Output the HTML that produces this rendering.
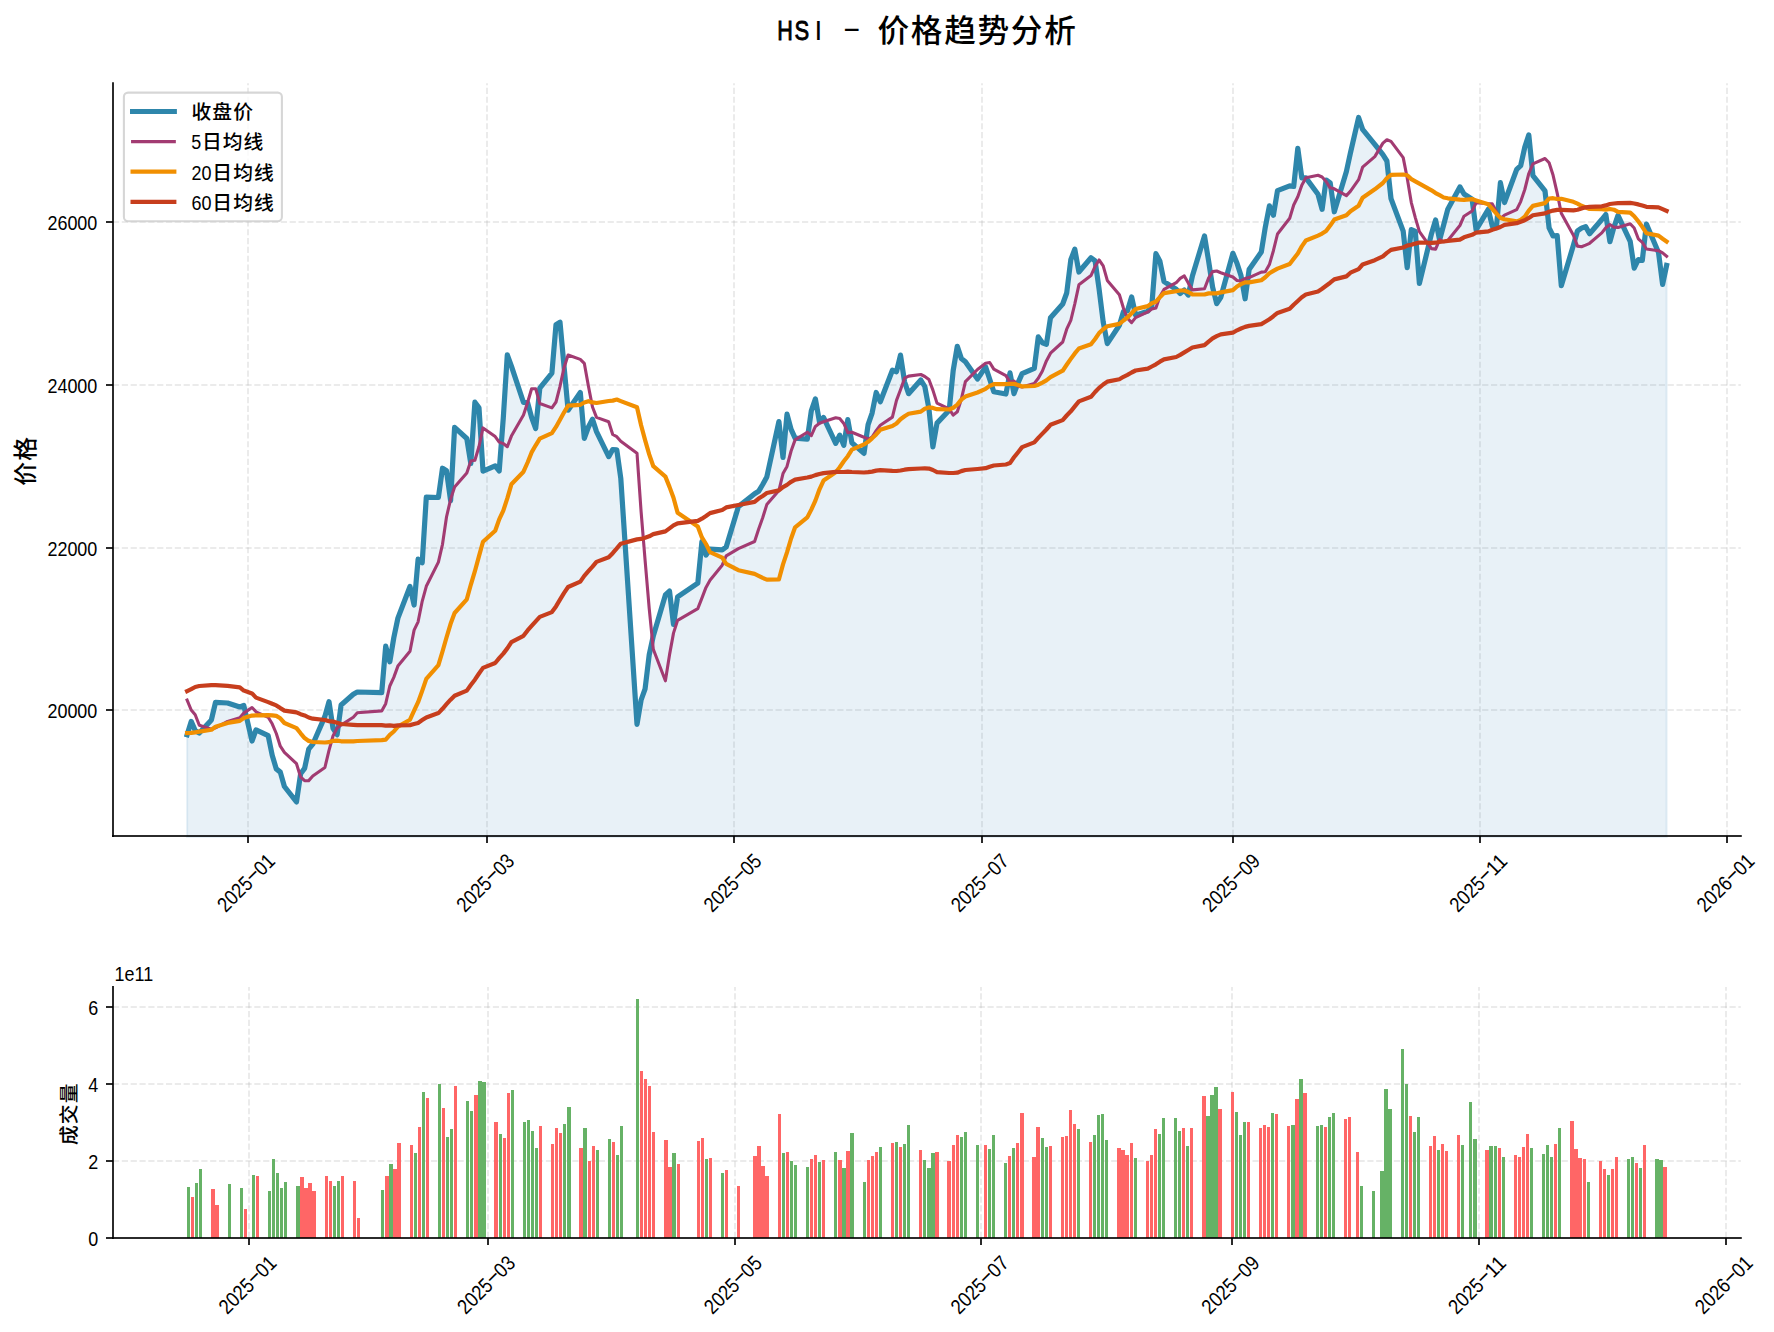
<!DOCTYPE html>
<html lang="zh"><head><meta charset="utf-8"><title>HSI - 价格趋势分析</title>
<style>html,body{margin:0;padding:0;background:#fff}svg{display:block}svg text{font-family:"Liberation Sans","Noto Sans CJK SC",sans-serif}</style></head>
<body>
<svg width="1774" height="1332" viewBox="0 0 1774 1332">
<rect width="1774" height="1332" fill="#fff"/>
<text transform="translate(926.70,41.50)" y="0" fill="#000"><tspan x="-149.44" dy="-1.05" stroke="#000" stroke-width="0.9" font-size="27.83" textLength="15.57" lengthAdjust="spacingAndGlyphs">H</tspan><tspan x="-132.32" stroke="#000" stroke-width="0.9" font-size="27.83" textLength="14.66" lengthAdjust="spacingAndGlyphs">S</tspan><tspan x="-112.19" font-size="27.83">I</tspan><tspan x="-99.99" font-size="27.83"> </tspan><tspan x="-84.26" dy="-3.48" font-size="27.83" textLength="18.54" lengthAdjust="spacingAndGlyphs">-</tspan><tspan x="-66.66" dy="3.48" font-size="27.83"> </tspan><tspan x="-49.16 -15.83 17.50 50.83 84.16 117.49" dy="1.05" font-size="31.66" font-weight="500">价格趋势分析</tspan></text>
<g id="main">
<line x1="248" y1="836.0" x2="248" y2="83.2" stroke="#b0b0b0" stroke-opacity="0.25" stroke-width="2" stroke-dasharray="6.1667,2.6667"/>
<line x1="487" y1="836.0" x2="487" y2="83.2" stroke="#b0b0b0" stroke-opacity="0.25" stroke-width="2" stroke-dasharray="6.1667,2.6667"/>
<line x1="734" y1="836.0" x2="734" y2="83.2" stroke="#b0b0b0" stroke-opacity="0.25" stroke-width="2" stroke-dasharray="6.1667,2.6667"/>
<line x1="982" y1="836.0" x2="982" y2="83.2" stroke="#b0b0b0" stroke-opacity="0.25" stroke-width="2" stroke-dasharray="6.1667,2.6667"/>
<line x1="1233" y1="836.0" x2="1233" y2="83.2" stroke="#b0b0b0" stroke-opacity="0.25" stroke-width="2" stroke-dasharray="6.1667,2.6667"/>
<line x1="1480" y1="836.0" x2="1480" y2="83.2" stroke="#b0b0b0" stroke-opacity="0.25" stroke-width="2" stroke-dasharray="6.1667,2.6667"/>
<line x1="1727" y1="836.0" x2="1727" y2="83.2" stroke="#b0b0b0" stroke-opacity="0.25" stroke-width="2" stroke-dasharray="6.1667,2.6667"/>
<line x1="113.0" y1="710" x2="1740.8" y2="710" stroke="#b0b0b0" stroke-opacity="0.25" stroke-width="2" stroke-dasharray="6.1667,2.6667"/>
<line x1="113.0" y1="548" x2="1740.8" y2="548" stroke="#b0b0b0" stroke-opacity="0.25" stroke-width="2" stroke-dasharray="6.1667,2.6667"/>
<line x1="113.0" y1="385" x2="1740.8" y2="385" stroke="#b0b0b0" stroke-opacity="0.25" stroke-width="2" stroke-dasharray="6.1667,2.6667"/>
<line x1="113.0" y1="222" x2="1740.8" y2="222" stroke="#b0b0b0" stroke-opacity="0.25" stroke-width="2" stroke-dasharray="6.1667,2.6667"/>
<polygon points="187.1,836.9 187.1,734.7 191.2,721.4 195.2,730.5 199.3,733.1 211.4,719.9 215.5,702.4 227.6,703.0 239.8,707.0 243.8,705.5 252.0,741.0 256.0,729.9 268.2,735.7 272.2,755.3 276.3,768.9 280.3,772.1 284.4,786.5 296.5,801.9 300.6,773.8 304.6,768.4 308.7,749.2 312.8,744.2 324.9,716.4 329.0,701.7 333.0,728.3 337.1,734.7 341.1,705.0 353.3,694.3 357.3,692.0 381.7,692.7 385.7,646.1 389.8,661.8 393.8,637.8 397.9,618.1 410.0,586.5 414.1,605.0 418.1,559.2 422.2,562.7 426.3,497.2 438.4,497.5 442.5,468.2 446.5,470.8 450.6,500.7 454.6,427.4 466.8,438.5 470.8,463.5 474.9,402.2 479.0,407.8 483.0,471.1 495.2,465.8 499.2,471.0 503.3,417.9 507.3,354.8 511.4,366.1 523.5,402.5 527.6,402.6 531.6,417.4 535.7,428.6 539.8,388.2 551.9,373.1 556.0,324.7 560.0,322.2 564.1,367.0 568.1,410.2 580.3,392.6 584.3,438.3 588.4,427.0 592.5,419.2 596.5,431.6 608.7,456.6 612.7,449.5 616.8,449.8 620.8,478.5 637.0,724.3 641.1,700.0 645.1,688.8 649.2,654.9 653.3,635.9 665.4,595.0 669.5,591.1 673.5,624.4 677.6,596.8 697.8,583.2 701.9,541.7 706.0,555.0 710.0,549.2 722.2,549.9 726.2,547.0 738.4,506.6 754.6,493.7 758.6,491.3 762.7,484.5 766.8,477.0 778.9,421.6 783.0,457.5 787.0,414.2 791.1,429.4 795.1,438.2 807.3,439.2 811.3,410.8 815.4,398.9 819.5,422.0 823.5,417.4 835.7,443.3 839.7,435.2 843.8,445.3 847.8,419.6 851.9,442.7 864.0,453.4 868.1,424.6 872.1,413.1 876.2,392.5 880.3,401.8 892.4,370.2 896.5,371.7 900.5,355.1 904.6,382.0 908.6,393.7 920.8,380.0 924.8,386.5 928.9,408.5 932.9,446.9 937.0,423.1 949.2,410.2 953.2,370.5 957.3,346.3 961.3,358.4 965.4,361.8 977.5,379.0 985.6,366.9 989.7,379.2 993.8,391.8 1005.9,394.0 1010.0,372.9 1014.0,393.7 1018.1,382.6 1022.1,373.6 1034.3,368.4 1038.3,336.9 1042.4,342.8 1046.4,344.3 1050.5,317.7 1062.7,304.0 1066.7,293.0 1070.8,259.8 1074.8,249.3 1078.9,272.0 1091.0,257.8 1095.1,260.9 1099.1,289.2 1103.2,322.0 1107.3,343.6 1119.4,325.3 1123.5,311.5 1127.5,310.8 1131.6,296.9 1135.6,315.1 1147.8,311.1 1151.8,306.0 1155.9,253.6 1159.9,261.3 1164.0,281.6 1176.2,289.2 1180.2,293.6 1184.3,290.1 1188.3,295.1 1192.4,276.0 1204.5,236.0 1208.6,260.9 1212.6,287.2 1216.7,303.7 1220.8,297.3 1232.9,253.3 1237.0,263.2 1241.0,275.6 1245.1,298.8 1249.1,269.6 1261.3,252.0 1265.3,227.2 1269.4,205.9 1273.4,215.2 1277.5,190.6 1289.7,185.9 1293.7,186.5 1297.8,148.3 1301.8,177.9 1305.9,177.9 1318.0,194.2 1322.1,209.3 1326.1,180.0 1330.2,182.8 1334.3,211.8 1346.4,171.5 1350.5,152.6 1358.6,117.5 1362.6,129.4 1374.8,144.3 1382.9,154.7 1386.9,161.0 1391.0,198.6 1403.2,231.2 1407.2,267.7 1411.3,229.5 1415.3,231.3 1419.4,283.5 1431.5,233.7 1435.6,220.0 1439.6,240.0 1443.7,224.8 1447.8,209.2 1459.9,186.9 1464.0,194.0 1472.1,199.2 1476.1,229.8 1488.3,209.3 1492.3,226.1 1496.4,227.5 1500.4,182.7 1504.5,202.5 1516.7,169.4 1520.7,165.6 1524.8,147.1 1528.8,134.9 1532.9,175.6 1545.0,190.9 1549.1,227.9 1553.1,236.0 1557.2,235.6 1561.3,285.7 1573.4,245.3 1577.5,230.8 1581.5,228.1 1585.6,226.6 1589.6,233.7 1601.8,219.5 1605.8,214.5 1609.9,241.7 1613.9,227.4 1618.0,215.3 1630.2,241.3 1634.2,268.2 1638.3,259.6 1642.3,260.4 1646.4,224.1 1658.5,252.4 1662.6,284.4 1666.6,265.4 1666.6,836.9" fill="#1f77b4" fill-opacity="0.1" stroke="#1f77b4" stroke-opacity="0.1" stroke-width="2.08" stroke-linejoin="miter"/>
<polyline points="187.1,734.7 191.2,721.4 195.2,730.5 199.3,733.1 211.4,719.9 215.5,702.4 227.6,703.0 239.8,707.0 243.8,705.5 252.0,741.0 256.0,729.9 268.2,735.7 272.2,755.3 276.3,768.9 280.3,772.1 284.4,786.5 296.5,801.9 300.6,773.8 304.6,768.4 308.7,749.2 312.8,744.2 324.9,716.4 329.0,701.7 333.0,728.3 337.1,734.7 341.1,705.0 353.3,694.3 357.3,692.0 381.7,692.7 385.7,646.1 389.8,661.8 393.8,637.8 397.9,618.1 410.0,586.5 414.1,605.0 418.1,559.2 422.2,562.7 426.3,497.2 438.4,497.5 442.5,468.2 446.5,470.8 450.6,500.7 454.6,427.4 466.8,438.5 470.8,463.5 474.9,402.2 479.0,407.8 483.0,471.1 495.2,465.8 499.2,471.0 503.3,417.9 507.3,354.8 511.4,366.1 523.5,402.5 527.6,402.6 531.6,417.4 535.7,428.6 539.8,388.2 551.9,373.1 556.0,324.7 560.0,322.2 564.1,367.0 568.1,410.2 580.3,392.6 584.3,438.3 588.4,427.0 592.5,419.2 596.5,431.6 608.7,456.6 612.7,449.5 616.8,449.8 620.8,478.5 637.0,724.3 641.1,700.0 645.1,688.8 649.2,654.9 653.3,635.9 665.4,595.0 669.5,591.1 673.5,624.4 677.6,596.8 697.8,583.2 701.9,541.7 706.0,555.0 710.0,549.2 722.2,549.9 726.2,547.0 738.4,506.6 754.6,493.7 758.6,491.3 762.7,484.5 766.8,477.0 778.9,421.6 783.0,457.5 787.0,414.2 791.1,429.4 795.1,438.2 807.3,439.2 811.3,410.8 815.4,398.9 819.5,422.0 823.5,417.4 835.7,443.3 839.7,435.2 843.8,445.3 847.8,419.6 851.9,442.7 864.0,453.4 868.1,424.6 872.1,413.1 876.2,392.5 880.3,401.8 892.4,370.2 896.5,371.7 900.5,355.1 904.6,382.0 908.6,393.7 920.8,380.0 924.8,386.5 928.9,408.5 932.9,446.9 937.0,423.1 949.2,410.2 953.2,370.5 957.3,346.3 961.3,358.4 965.4,361.8 977.5,379.0 985.6,366.9 989.7,379.2 993.8,391.8 1005.9,394.0 1010.0,372.9 1014.0,393.7 1018.1,382.6 1022.1,373.6 1034.3,368.4 1038.3,336.9 1042.4,342.8 1046.4,344.3 1050.5,317.7 1062.7,304.0 1066.7,293.0 1070.8,259.8 1074.8,249.3 1078.9,272.0 1091.0,257.8 1095.1,260.9 1099.1,289.2 1103.2,322.0 1107.3,343.6 1119.4,325.3 1123.5,311.5 1127.5,310.8 1131.6,296.9 1135.6,315.1 1147.8,311.1 1151.8,306.0 1155.9,253.6 1159.9,261.3 1164.0,281.6 1176.2,289.2 1180.2,293.6 1184.3,290.1 1188.3,295.1 1192.4,276.0 1204.5,236.0 1208.6,260.9 1212.6,287.2 1216.7,303.7 1220.8,297.3 1232.9,253.3 1237.0,263.2 1241.0,275.6 1245.1,298.8 1249.1,269.6 1261.3,252.0 1265.3,227.2 1269.4,205.9 1273.4,215.2 1277.5,190.6 1289.7,185.9 1293.7,186.5 1297.8,148.3 1301.8,177.9 1305.9,177.9 1318.0,194.2 1322.1,209.3 1326.1,180.0 1330.2,182.8 1334.3,211.8 1346.4,171.5 1350.5,152.6 1358.6,117.5 1362.6,129.4 1374.8,144.3 1382.9,154.7 1386.9,161.0 1391.0,198.6 1403.2,231.2 1407.2,267.7 1411.3,229.5 1415.3,231.3 1419.4,283.5 1431.5,233.7 1435.6,220.0 1439.6,240.0 1443.7,224.8 1447.8,209.2 1459.9,186.9 1464.0,194.0 1472.1,199.2 1476.1,229.8 1488.3,209.3 1492.3,226.1 1496.4,227.5 1500.4,182.7 1504.5,202.5 1516.7,169.4 1520.7,165.6 1524.8,147.1 1528.8,134.9 1532.9,175.6 1545.0,190.9 1549.1,227.9 1553.1,236.0 1557.2,235.6 1561.3,285.7 1573.4,245.3 1577.5,230.8 1581.5,228.1 1585.6,226.6 1589.6,233.7 1601.8,219.5 1605.8,214.5 1609.9,241.7 1613.9,227.4 1618.0,215.3 1630.2,241.3 1634.2,268.2 1638.3,259.6 1642.3,260.4 1646.4,224.1 1658.5,252.4 1662.6,284.4 1666.6,265.4" stroke="#2E86AB" stroke-width="5.2" fill="none" stroke-linejoin="round" stroke-linecap="square"/>
<polyline points="187.1,700.1 191.2,710.0 195.2,714.8 199.3,725.3 211.4,729.3 215.5,727.9 227.6,721.4 239.8,717.8 243.8,713.1 252.0,707.5 256.0,711.8 268.2,717.3 272.2,723.8 276.3,733.5 280.3,746.2 284.4,752.4 296.5,763.7 300.6,777.0 304.6,780.7 308.7,780.6 312.8,776.0 324.9,767.5 329.0,750.4 333.0,736.0 337.1,728.0 341.1,725.1 353.3,717.2 357.3,712.8 381.7,710.9 385.7,703.7 389.8,686.0 393.8,677.4 397.9,666.1 410.0,651.3 414.1,630.1 418.1,621.8 422.2,601.3 426.3,586.3 438.4,562.1 442.5,544.3 446.5,517.0 450.6,499.3 454.6,486.9 466.8,472.9 470.8,461.1 474.9,460.2 479.0,446.5 483.0,427.9 495.2,436.6 499.2,442.1 503.3,443.6 507.3,446.7 511.4,436.1 523.5,415.1 527.6,402.5 531.6,388.8 535.7,388.7 539.8,403.5 551.9,407.9 556.0,402.0 560.0,386.4 564.1,367.4 568.1,355.0 580.3,359.4 584.3,363.3 588.4,386.1 592.5,407.0 596.5,417.4 608.7,421.7 612.7,434.5 616.8,436.7 620.8,441.3 637.0,453.2 641.1,511.7 645.1,560.4 649.2,608.3 653.3,649.3 665.4,680.8 669.5,654.9 673.5,633.1 677.6,620.3 697.8,608.6 701.9,598.1 706.0,587.4 710.0,580.2 722.2,565.2 726.2,555.8 738.4,548.6 754.6,541.5 758.6,529.3 762.7,517.7 766.8,504.6 778.9,490.6 783.0,473.6 787.0,466.4 791.1,451.0 795.1,439.9 807.3,432.2 811.3,435.7 815.4,426.4 819.5,423.3 823.5,421.8 835.7,417.7 839.7,418.5 843.8,423.4 847.8,432.6 851.9,432.2 864.0,437.2 868.1,439.2 872.1,437.1 876.2,430.7 880.3,425.3 892.4,417.1 896.5,400.4 900.5,389.8 904.6,378.2 908.6,376.1 920.8,374.5 924.8,376.5 928.9,379.5 932.9,390.1 937.0,403.1 949.2,409.0 953.2,415.1 957.3,411.8 961.3,399.4 965.4,381.7 977.5,369.5 985.6,363.2 989.7,362.5 993.8,369.1 1005.9,375.7 1010.0,382.2 1014.0,381.0 1018.1,386.3 1022.1,387.0 1034.3,383.4 1038.3,378.2 1042.4,371.0 1046.4,360.9 1050.5,353.2 1062.7,342.0 1066.7,329.2 1070.8,320.4 1074.8,303.8 1078.9,284.8 1091.0,275.6 1095.1,266.4 1099.1,260.0 1103.2,265.8 1107.3,280.4 1119.4,294.7 1123.5,308.2 1127.5,318.3 1131.6,322.6 1135.6,317.6 1147.8,311.9 1151.8,309.1 1155.9,308.0 1159.9,296.6 1164.0,289.4 1176.2,282.7 1180.2,278.4 1184.3,275.9 1188.3,283.1 1192.4,289.9 1204.5,288.8 1208.6,278.1 1212.6,271.6 1216.7,271.0 1220.8,272.7 1232.9,277.0 1237.0,280.5 1241.0,280.9 1245.1,278.6 1249.1,277.6 1261.3,272.1 1265.3,271.8 1269.4,264.6 1273.4,250.7 1277.5,234.0 1289.7,218.2 1293.7,205.0 1297.8,196.8 1301.8,185.3 1305.9,177.8 1318.0,175.3 1322.1,177.0 1326.1,181.5 1330.2,187.8 1334.3,188.8 1346.4,195.6 1350.5,191.1 1358.6,179.7 1362.6,167.2 1374.8,156.6 1382.9,143.1 1386.9,139.7 1391.0,141.4 1403.2,157.6 1407.2,178.0 1411.3,202.6 1415.3,217.6 1419.4,231.6 1431.5,248.6 1435.6,249.1 1439.6,239.6 1443.7,241.7 1447.8,240.4 1459.9,225.5 1464.0,216.2 1472.1,211.0 1476.1,202.8 1488.3,203.8 1492.3,203.9 1496.4,211.7 1500.4,218.4 1504.5,215.1 1516.7,209.6 1520.7,201.6 1524.8,189.5 1528.8,173.5 1532.9,163.9 1545.0,158.5 1549.1,162.8 1553.1,175.3 1557.2,193.1 1561.3,213.2 1573.4,235.2 1577.5,246.1 1581.5,246.7 1585.6,245.1 1589.6,243.3 1601.8,232.9 1605.8,227.7 1609.9,224.5 1613.9,227.2 1618.0,227.4 1630.2,223.7 1634.2,228.0 1638.3,238.8 1642.3,242.4 1646.4,249.0 1658.5,250.7 1662.6,252.9 1666.6,256.2" stroke="#A23B72" stroke-width="3.1" fill="none" stroke-linejoin="round" stroke-linecap="square"/>
<polyline points="187.1,733.1 191.2,732.9 195.2,732.3 199.3,731.7 211.4,729.7 215.5,726.7 227.6,722.9 239.8,720.9 243.8,718.1 252.0,715.6 256.0,715.3 268.2,715.2 272.2,715.4 276.3,715.9 280.3,718.3 284.4,723.0 296.5,728.1 300.6,733.3 304.6,738.1 308.7,740.9 312.8,742.0 324.9,742.5 329.0,742.2 333.0,740.8 337.1,740.6 341.1,741.3 353.3,741.4 357.3,741.0 381.7,740.2 385.7,739.6 389.8,734.9 393.8,731.5 397.9,726.6 410.0,719.7 414.1,710.6 418.1,702.2 422.2,690.9 426.3,678.9 438.4,665.1 442.5,651.5 446.5,637.5 450.6,623.8 454.6,613.0 466.8,599.3 470.8,584.8 474.9,571.2 479.0,556.1 483.0,541.8 495.2,530.7 499.2,519.4 503.3,510.6 507.3,498.4 511.4,484.3 523.5,471.7 527.6,462.5 531.6,452.4 535.7,445.3 539.8,438.6 551.9,433.1 556.0,426.9 560.0,419.7 564.1,412.3 568.1,405.6 580.3,404.8 584.3,402.5 588.4,401.2 592.5,402.4 596.5,403.0 608.7,401.0 612.7,400.6 616.8,399.5 620.8,401.1 637.0,407.3 641.1,425.2 645.1,440.1 649.2,454.4 653.3,466.2 665.4,476.6 669.5,486.9 673.5,497.8 677.6,512.8 697.8,526.6 701.9,537.4 706.0,544.0 710.0,552.1 722.2,557.6 726.2,563.8 738.4,570.2 754.6,573.9 758.6,575.8 762.7,577.9 766.8,579.6 778.9,579.5 783.0,564.4 787.0,552.3 791.1,538.5 795.1,527.3 807.3,517.4 811.3,509.6 815.4,500.6 819.5,489.3 823.5,480.6 835.7,472.3 839.7,467.3 843.8,461.3 847.8,456.2 851.9,449.6 864.0,444.4 868.1,441.8 872.1,438.3 876.2,434.4 880.3,429.8 892.4,426.0 896.5,423.5 900.5,419.2 904.6,416.2 908.6,413.8 920.8,411.6 924.8,408.7 928.9,407.4 932.9,407.9 937.0,409.2 949.2,409.5 953.2,407.8 957.3,404.6 961.3,399.6 965.4,396.6 977.5,392.5 985.6,388.8 989.7,385.9 993.8,384.2 1005.9,384.2 1010.0,383.8 1014.0,383.9 1018.1,385.0 1022.1,386.4 1034.3,386.0 1038.3,384.7 1042.4,382.6 1046.4,380.4 1050.5,377.2 1062.7,370.7 1066.7,364.8 1070.8,358.9 1074.8,353.4 1078.9,348.5 1091.0,344.2 1095.1,339.0 1099.1,333.1 1103.2,329.2 1107.3,326.3 1119.4,323.9 1123.5,320.5 1127.5,317.4 1131.6,313.3 1135.6,309.0 1147.8,306.1 1151.8,303.2 1155.9,301.7 1159.9,297.2 1164.0,293.1 1176.2,291.2 1180.2,290.5 1184.3,290.5 1188.3,292.0 1192.4,294.3 1204.5,294.5 1208.6,293.4 1212.6,293.4 1216.7,293.3 1220.8,292.4 1232.9,290.1 1237.0,286.5 1241.0,284.1 1245.1,282.3 1249.1,282.4 1261.3,280.2 1265.3,277.2 1269.4,273.3 1273.4,270.9 1277.5,268.6 1289.7,264.0 1293.7,258.8 1297.8,253.5 1301.8,246.4 1305.9,240.5 1318.0,235.6 1322.1,233.6 1326.1,231.0 1330.2,225.6 1334.3,219.6 1346.4,215.3 1350.5,211.2 1358.6,205.7 1362.6,197.8 1374.8,189.3 1382.9,183.0 1386.9,178.2 1391.0,174.9 1403.2,174.5 1407.2,175.3 1411.3,179.1 1415.3,181.3 1419.4,183.6 1431.5,190.3 1435.6,193.1 1439.6,195.2 1443.7,197.5 1447.8,198.3 1459.9,199.7 1464.0,199.9 1472.1,199.1 1476.1,200.4 1488.3,204.3 1492.3,208.9 1496.4,213.7 1500.4,217.9 1504.5,219.3 1516.7,221.4 1520.7,219.9 1524.8,216.6 1528.8,210.6 1532.9,205.9 1545.0,203.1 1549.1,198.5 1553.1,198.2 1557.2,199.0 1561.3,198.8 1573.4,201.8 1577.5,203.6 1581.5,205.8 1585.6,207.5 1589.6,208.9 1601.8,209.1 1605.8,209.6 1609.9,209.0 1613.9,209.7 1618.0,211.9 1630.2,212.6 1634.2,216.2 1638.3,221.3 1642.3,226.9 1646.4,233.2 1658.5,235.6 1662.6,238.7 1666.6,241.5" stroke="#F18F01" stroke-width="4.2" fill="none" stroke-linejoin="round" stroke-linecap="square"/>
<polyline points="187.1,691.1 191.2,689.2 195.2,687.0 199.3,686.0 211.4,685.1 215.5,685.2 227.6,685.9 239.8,687.3 243.8,690.6 252.0,693.4 256.0,697.6 268.2,702.1 272.2,703.8 276.3,705.4 280.3,708.1 284.4,710.6 296.5,712.3 300.6,714.2 304.6,715.4 308.7,717.5 312.8,718.7 324.9,720.0 329.0,721.1 333.0,721.6 337.1,722.7 341.1,724.0 353.3,724.8 357.3,725.1 381.7,725.2 385.7,725.6 389.8,725.3 393.8,725.8 397.9,725.4 410.0,725.1 414.1,724.0 418.1,722.9 422.2,720.1 426.3,717.4 438.4,713.1 442.5,708.8 446.5,704.2 450.6,699.7 454.6,695.8 466.8,690.6 470.8,685.0 474.9,679.7 479.0,673.5 483.0,667.9 495.2,663.0 499.2,658.2 503.3,653.6 507.3,648.4 511.4,642.1 523.5,635.8 527.6,630.4 531.6,625.9 535.7,621.4 539.8,616.9 551.9,612.1 556.0,606.4 560.0,599.7 564.1,592.9 568.1,587.0 580.3,581.6 584.3,575.9 588.4,571.2 592.5,566.7 596.5,561.9 608.7,557.3 612.7,553.2 616.8,548.3 620.8,543.7 637.0,539.4 641.1,538.9 645.1,537.7 649.2,536.3 653.3,534.1 665.4,531.4 669.5,528.4 673.5,525.4 677.6,523.3 697.8,520.9 701.9,518.7 706.0,516.0 710.0,513.1 722.2,510.0 726.2,507.4 738.4,505.0 754.6,501.9 758.6,498.6 762.7,496.0 766.8,493.0 778.9,490.4 783.0,487.1 787.0,484.9 791.1,481.8 795.1,479.6 807.3,477.5 811.3,476.6 815.4,475.1 819.5,474.0 823.5,473.1 835.7,471.8 839.7,472.0 843.8,472.0 847.8,471.7 851.9,472.0 864.0,472.5 868.1,472.2 872.1,471.6 876.2,470.6 880.3,470.2 892.4,470.9 896.5,471.0 900.5,470.5 904.6,469.7 908.6,469.1 920.8,468.5 924.8,468.4 928.9,468.6 932.9,470.0 937.0,472.1 949.2,473.0 953.2,473.0 957.3,472.7 961.3,471.1 965.4,470.0 977.5,469.0 985.6,468.2 989.7,466.7 993.8,465.5 1005.9,464.5 1010.0,463.1 1014.0,457.3 1018.1,452.2 1022.1,447.1 1034.3,442.4 1038.3,437.9 1042.4,433.6 1046.4,429.5 1050.5,424.8 1062.7,420.1 1066.7,415.5 1070.8,411.3 1074.8,406.4 1078.9,401.4 1091.0,396.8 1095.1,392.0 1099.1,387.9 1103.2,384.5 1107.3,381.6 1119.4,379.3 1123.5,376.8 1127.5,374.9 1131.6,372.5 1135.6,370.5 1147.8,368.6 1151.8,366.5 1155.9,364.3 1159.9,361.7 1164.0,359.4 1176.2,357.0 1180.2,354.9 1184.3,352.4 1188.3,350.0 1192.4,347.5 1204.5,345.1 1208.6,341.6 1212.6,338.4 1216.7,336.1 1220.8,334.3 1232.9,332.7 1237.0,330.3 1241.0,328.5 1245.1,326.9 1249.1,325.9 1261.3,324.1 1265.3,321.7 1269.4,319.2 1273.4,316.2 1277.5,312.9 1289.7,308.7 1293.7,304.7 1297.8,301.0 1301.8,297.3 1305.9,294.5 1318.0,291.5 1322.1,288.7 1326.1,285.8 1330.2,282.7 1334.3,279.4 1346.4,276.4 1350.5,272.7 1358.6,269.1 1362.6,264.5 1374.8,260.2 1382.9,256.4 1386.9,252.9 1391.0,249.9 1403.2,247.5 1407.2,245.6 1411.3,244.8 1415.3,243.6 1419.4,242.5 1431.5,242.9 1435.6,242.7 1439.6,241.8 1443.7,241.5 1447.8,240.9 1459.9,239.6 1464.0,237.3 1472.1,234.8 1476.1,232.7 1488.3,231.4 1492.3,229.7 1496.4,228.5 1500.4,227.0 1504.5,224.9 1516.7,223.2 1520.7,221.8 1524.8,220.2 1528.8,217.9 1532.9,215.3 1545.0,213.4 1549.1,211.7 1553.1,210.6 1557.2,209.9 1561.3,209.9 1573.4,210.4 1577.5,209.7 1581.5,208.4 1585.6,207.3 1589.6,206.8 1601.8,206.3 1605.8,205.4 1609.9,204.0 1613.9,203.5 1618.0,203.1 1630.2,202.9 1634.2,203.5 1638.3,204.4 1642.3,205.6 1646.4,206.8 1658.5,207.4 1662.6,209.2 1666.6,210.9" stroke="#C73E1D" stroke-width="4.2" fill="none" stroke-linejoin="round" stroke-linecap="square"/>
<line x1="113.0" y1="82.2" x2="113.0" y2="837.0" stroke="#000" stroke-opacity="0.8333" stroke-width="2"/>
<line x1="112.0" y1="836.0" x2="1741.8" y2="836.0" stroke="#000" stroke-opacity="0.8333" stroke-width="2"/>
<line x1="248" y1="836.0" x2="248" y2="843.0" stroke="#000" stroke-opacity="0.8333" stroke-width="2"/>
<text transform="translate(250.90,888.00) rotate(-45)" y="0" fill="#000"><tspan x="-35.62" font-size="20.83" textLength="39.99" lengthAdjust="spacingAndGlyphs">2025</tspan><tspan x="3.48" dy="-2.60" font-size="20.83" textLength="13.87" lengthAdjust="spacingAndGlyphs">-</tspan><tspan x="16.04" dy="2.60" font-size="20.83" textLength="20.00" lengthAdjust="spacingAndGlyphs">01</tspan></text>
<line x1="487" y1="836.0" x2="487" y2="843.0" stroke="#000" stroke-opacity="0.8333" stroke-width="2"/>
<text transform="translate(490.06,888.00) rotate(-45)" y="0" fill="#000"><tspan x="-35.62" font-size="20.83" textLength="39.99" lengthAdjust="spacingAndGlyphs">2025</tspan><tspan x="3.48" dy="-2.60" font-size="20.83" textLength="13.87" lengthAdjust="spacingAndGlyphs">-</tspan><tspan x="16.04" dy="2.60" font-size="20.83" textLength="20.00" lengthAdjust="spacingAndGlyphs">03</tspan></text>
<line x1="734" y1="836.0" x2="734" y2="843.0" stroke="#000" stroke-opacity="0.8333" stroke-width="2"/>
<text transform="translate(737.33,888.00) rotate(-45)" y="0" fill="#000"><tspan x="-35.62" font-size="20.83" textLength="39.99" lengthAdjust="spacingAndGlyphs">2025</tspan><tspan x="3.48" dy="-2.60" font-size="20.83" textLength="13.87" lengthAdjust="spacingAndGlyphs">-</tspan><tspan x="16.04" dy="2.60" font-size="20.83" textLength="20.00" lengthAdjust="spacingAndGlyphs">05</tspan></text>
<line x1="982" y1="836.0" x2="982" y2="843.0" stroke="#000" stroke-opacity="0.8333" stroke-width="2"/>
<text transform="translate(984.59,888.00) rotate(-45)" y="0" fill="#000"><tspan x="-35.62" font-size="20.83" textLength="39.99" lengthAdjust="spacingAndGlyphs">2025</tspan><tspan x="3.48" dy="-2.60" font-size="20.83" textLength="13.87" lengthAdjust="spacingAndGlyphs">-</tspan><tspan x="16.04" dy="2.60" font-size="20.83" textLength="20.00" lengthAdjust="spacingAndGlyphs">07</tspan></text>
<line x1="1233" y1="836.0" x2="1233" y2="843.0" stroke="#000" stroke-opacity="0.8333" stroke-width="2"/>
<text transform="translate(1235.91,888.00) rotate(-45)" y="0" fill="#000"><tspan x="-35.62" font-size="20.83" textLength="39.99" lengthAdjust="spacingAndGlyphs">2025</tspan><tspan x="3.48" dy="-2.60" font-size="20.83" textLength="13.87" lengthAdjust="spacingAndGlyphs">-</tspan><tspan x="16.04" dy="2.60" font-size="20.83" textLength="20.00" lengthAdjust="spacingAndGlyphs">09</tspan></text>
<line x1="1480" y1="836.0" x2="1480" y2="843.0" stroke="#000" stroke-opacity="0.8333" stroke-width="2"/>
<text transform="translate(1483.18,888.00) rotate(-45)" y="0" fill="#000"><tspan x="-35.62" font-size="20.83" textLength="39.99" lengthAdjust="spacingAndGlyphs">2025</tspan><tspan x="3.48" dy="-2.60" font-size="20.83" textLength="13.87" lengthAdjust="spacingAndGlyphs">-</tspan><tspan x="16.04" dy="2.60" font-size="20.83" textLength="20.00" lengthAdjust="spacingAndGlyphs">11</tspan></text>
<line x1="1727" y1="836.0" x2="1727" y2="843.0" stroke="#000" stroke-opacity="0.8333" stroke-width="2"/>
<text transform="translate(1730.45,888.00) rotate(-45)" y="0" fill="#000"><tspan x="-35.62" font-size="20.83" textLength="39.99" lengthAdjust="spacingAndGlyphs">2026</tspan><tspan x="3.48" dy="-2.60" font-size="20.83" textLength="13.87" lengthAdjust="spacingAndGlyphs">-</tspan><tspan x="16.04" dy="2.60" font-size="20.83" textLength="20.00" lengthAdjust="spacingAndGlyphs">01</tspan></text>
<line x1="106.0" y1="710" x2="113.0" y2="710" stroke="#000" stroke-opacity="0.8333" stroke-width="2"/>
<text transform="translate(98.40,718.35)" y="0" fill="#000"><tspan x="-51.03" font-size="20.83" textLength="49.99" lengthAdjust="spacingAndGlyphs">20000</tspan></text>
<line x1="106.0" y1="548" x2="113.0" y2="548" stroke="#000" stroke-opacity="0.8333" stroke-width="2"/>
<text transform="translate(98.40,555.64)" y="0" fill="#000"><tspan x="-51.03" font-size="20.83" textLength="49.99" lengthAdjust="spacingAndGlyphs">22000</tspan></text>
<line x1="106.0" y1="385" x2="113.0" y2="385" stroke="#000" stroke-opacity="0.8333" stroke-width="2"/>
<text transform="translate(98.40,392.92)" y="0" fill="#000"><tspan x="-51.03" font-size="20.83" textLength="49.99" lengthAdjust="spacingAndGlyphs">24000</tspan></text>
<line x1="106.0" y1="222" x2="113.0" y2="222" stroke="#000" stroke-opacity="0.8333" stroke-width="2"/>
<text transform="translate(98.40,230.21)" y="0" fill="#000"><tspan x="-51.03" font-size="20.83" textLength="49.99" lengthAdjust="spacingAndGlyphs">26000</tspan></text>
<text transform="translate(34.00,461.40) rotate(-90)" y="0" fill="#000"><tspan x="-24.38 0.63" font-size="23.75" font-weight="500">价格</tspan></text>
<rect x="123.9" y="92.6" width="158" height="128.6" rx="4.2" fill="#fff" fill-opacity="0.8" stroke="#ccc" stroke-opacity="0.8" stroke-width="2.08"/>
<line x1="132.6" y1="111.5" x2="174.3" y2="111.5" stroke="#2E86AB" stroke-width="5.2" stroke-linecap="square"/>
<text transform="translate(191.00,119.35)" y="0" fill="#000"><tspan x="0.52 21.35 42.18" font-size="19.79" font-weight="500">收盘价</tspan></text>
<line x1="132.6" y1="141.6" x2="174.3" y2="141.6" stroke="#A23B72" stroke-width="3.1" stroke-linecap="square"/>
<text transform="translate(191.00,149.45)" y="0" fill="#000"><tspan x="0.21" font-size="20.83" textLength="10.00" lengthAdjust="spacingAndGlyphs">5</tspan><tspan x="10.94 31.77 52.60" font-size="19.79" font-weight="500">日均线</tspan></text>
<line x1="132.6" y1="171.7" x2="174.3" y2="171.7" stroke="#F18F01" stroke-width="4.2" stroke-linecap="square"/>
<text transform="translate(191.00,179.55)" y="0" fill="#000"><tspan x="0.42" font-size="20.83" textLength="20.00" lengthAdjust="spacingAndGlyphs">20</tspan><tspan x="21.35 42.18 63.01" font-size="19.79" font-weight="500">日均线</tspan></text>
<line x1="132.6" y1="201.8" x2="174.3" y2="201.8" stroke="#C73E1D" stroke-width="4.2" stroke-linecap="square"/>
<text transform="translate(191.00,209.65)" y="0" fill="#000"><tspan x="0.42" font-size="20.83" textLength="20.00" lengthAdjust="spacingAndGlyphs">60</tspan><tspan x="21.35 42.18 63.01" font-size="19.79" font-weight="500">日均线</tspan></text>
</g>
<g id="vol">
<line x1="249" y1="1238.0" x2="249" y2="986.9" stroke="#b0b0b0" stroke-opacity="0.25" stroke-width="2" stroke-dasharray="6.1667,2.6667"/>
<line x1="488" y1="1238.0" x2="488" y2="986.9" stroke="#b0b0b0" stroke-opacity="0.25" stroke-width="2" stroke-dasharray="6.1667,2.6667"/>
<line x1="735" y1="1238.0" x2="735" y2="986.9" stroke="#b0b0b0" stroke-opacity="0.25" stroke-width="2" stroke-dasharray="6.1667,2.6667"/>
<line x1="981" y1="1238.0" x2="981" y2="986.9" stroke="#b0b0b0" stroke-opacity="0.25" stroke-width="2" stroke-dasharray="6.1667,2.6667"/>
<line x1="1232" y1="1238.0" x2="1232" y2="986.9" stroke="#b0b0b0" stroke-opacity="0.25" stroke-width="2" stroke-dasharray="6.1667,2.6667"/>
<line x1="1479" y1="1238.0" x2="1479" y2="986.9" stroke="#b0b0b0" stroke-opacity="0.25" stroke-width="2" stroke-dasharray="6.1667,2.6667"/>
<line x1="1726" y1="1238.0" x2="1726" y2="986.9" stroke="#b0b0b0" stroke-opacity="0.25" stroke-width="2" stroke-dasharray="6.1667,2.6667"/>
<line x1="113.0" y1="1161" x2="1740.8" y2="1161" stroke="#b0b0b0" stroke-opacity="0.25" stroke-width="2" stroke-dasharray="6.1667,2.6667"/>
<line x1="113.0" y1="1084" x2="1740.8" y2="1084" stroke="#b0b0b0" stroke-opacity="0.25" stroke-width="2" stroke-dasharray="6.1667,2.6667"/>
<line x1="113.0" y1="1007" x2="1740.8" y2="1007" stroke="#b0b0b0" stroke-opacity="0.25" stroke-width="2" stroke-dasharray="6.1667,2.6667"/>
<rect x="187" y="1187" width="3" height="51.0" fill="#66b266"/>
<rect x="191" y="1197" width="3" height="41.0" fill="#ff6666"/>
<rect x="195" y="1183" width="3" height="55.0" fill="#66b266"/>
<rect x="199" y="1169" width="3" height="69.0" fill="#66b266"/>
<rect x="211" y="1189" width="4" height="49.0" fill="#ff6666"/>
<rect x="215" y="1205" width="4" height="33.0" fill="#ff6666"/>
<rect x="228" y="1184" width="3" height="54.0" fill="#66b266"/>
<rect x="240" y="1188" width="3" height="50.0" fill="#66b266"/>
<rect x="244" y="1209" width="3" height="29.0" fill="#ff6666"/>
<rect x="252" y="1175" width="3" height="63.0" fill="#66b266"/>
<rect x="256" y="1176" width="3" height="62.0" fill="#ff6666"/>
<rect x="268" y="1191" width="3" height="47.0" fill="#66b266"/>
<rect x="272" y="1159" width="3" height="79.0" fill="#66b266"/>
<rect x="276" y="1173" width="3" height="65.0" fill="#66b266"/>
<rect x="280" y="1188" width="3" height="50.0" fill="#66b266"/>
<rect x="284" y="1182" width="3" height="56.0" fill="#66b266"/>
<rect x="296" y="1186" width="4" height="52.0" fill="#66b266"/>
<rect x="300" y="1177" width="4" height="61.0" fill="#ff6666"/>
<rect x="304" y="1188" width="4" height="50.0" fill="#ff6666"/>
<rect x="308" y="1183" width="4" height="55.0" fill="#ff6666"/>
<rect x="312" y="1191" width="4" height="47.0" fill="#ff6666"/>
<rect x="325" y="1176" width="3" height="62.0" fill="#ff6666"/>
<rect x="329" y="1181" width="3" height="57.0" fill="#ff6666"/>
<rect x="333" y="1186" width="3" height="52.0" fill="#66b266"/>
<rect x="337" y="1181" width="3" height="57.0" fill="#66b266"/>
<rect x="341" y="1176" width="3" height="62.0" fill="#ff6666"/>
<rect x="353" y="1181" width="3" height="57.0" fill="#ff6666"/>
<rect x="357" y="1218" width="3" height="20.0" fill="#ff6666"/>
<rect x="381" y="1190" width="3" height="48.0" fill="#66b266"/>
<rect x="385" y="1176" width="4" height="62.0" fill="#ff6666"/>
<rect x="389" y="1164" width="4" height="74.0" fill="#66b266"/>
<rect x="393" y="1169" width="4" height="69.0" fill="#ff6666"/>
<rect x="397" y="1143" width="4" height="95.0" fill="#ff6666"/>
<rect x="410" y="1145" width="3" height="93.0" fill="#ff6666"/>
<rect x="414" y="1153" width="3" height="85.0" fill="#66b266"/>
<rect x="418" y="1127" width="3" height="111.0" fill="#ff6666"/>
<rect x="422" y="1092" width="3" height="146.0" fill="#66b266"/>
<rect x="426" y="1098" width="3" height="140.0" fill="#ff6666"/>
<rect x="438" y="1084" width="3" height="154.0" fill="#66b266"/>
<rect x="442" y="1108" width="3" height="130.0" fill="#ff6666"/>
<rect x="446" y="1137" width="3" height="101.0" fill="#66b266"/>
<rect x="450" y="1129" width="3" height="109.0" fill="#66b266"/>
<rect x="454" y="1086" width="3" height="152.0" fill="#ff6666"/>
<rect x="466" y="1101" width="3" height="137.0" fill="#66b266"/>
<rect x="470" y="1111" width="3" height="127.0" fill="#66b266"/>
<rect x="474" y="1095" width="4" height="143.0" fill="#ff6666"/>
<rect x="478" y="1081" width="4" height="157.0" fill="#66b266"/>
<rect x="482" y="1082" width="4" height="156.0" fill="#66b266"/>
<rect x="494" y="1122" width="4" height="116.0" fill="#ff6666"/>
<rect x="499" y="1134" width="3" height="104.0" fill="#66b266"/>
<rect x="503" y="1138" width="3" height="100.0" fill="#ff6666"/>
<rect x="507" y="1093" width="3" height="145.0" fill="#ff6666"/>
<rect x="511" y="1090" width="3" height="148.0" fill="#66b266"/>
<rect x="523" y="1122" width="3" height="116.0" fill="#66b266"/>
<rect x="527" y="1120" width="3" height="118.0" fill="#66b266"/>
<rect x="531" y="1131" width="3" height="107.0" fill="#66b266"/>
<rect x="535" y="1148" width="3" height="90.0" fill="#66b266"/>
<rect x="539" y="1126" width="3" height="112.0" fill="#ff6666"/>
<rect x="551" y="1144" width="3" height="94.0" fill="#ff6666"/>
<rect x="555" y="1128" width="3" height="110.0" fill="#ff6666"/>
<rect x="559" y="1133" width="3" height="105.0" fill="#ff6666"/>
<rect x="563" y="1124" width="3" height="114.0" fill="#66b266"/>
<rect x="567" y="1107" width="4" height="131.0" fill="#66b266"/>
<rect x="579" y="1148" width="4" height="90.0" fill="#ff6666"/>
<rect x="583" y="1128" width="4" height="110.0" fill="#66b266"/>
<rect x="588" y="1161" width="3" height="77.0" fill="#ff6666"/>
<rect x="592" y="1146" width="3" height="92.0" fill="#ff6666"/>
<rect x="596" y="1150" width="3" height="88.0" fill="#66b266"/>
<rect x="608" y="1139" width="3" height="99.0" fill="#66b266"/>
<rect x="612" y="1142" width="3" height="96.0" fill="#ff6666"/>
<rect x="616" y="1155" width="3" height="83.0" fill="#66b266"/>
<rect x="620" y="1126" width="3" height="112.0" fill="#66b266"/>
<rect x="636" y="999" width="3" height="239.0" fill="#66b266"/>
<rect x="640" y="1071" width="3" height="167.0" fill="#ff6666"/>
<rect x="644" y="1079" width="3" height="159.0" fill="#ff6666"/>
<rect x="648" y="1086" width="3" height="152.0" fill="#ff6666"/>
<rect x="652" y="1132" width="3" height="106.0" fill="#ff6666"/>
<rect x="664" y="1140" width="4" height="98.0" fill="#ff6666"/>
<rect x="668" y="1167" width="4" height="71.0" fill="#ff6666"/>
<rect x="672" y="1153" width="4" height="85.0" fill="#66b266"/>
<rect x="677" y="1164" width="3" height="74.0" fill="#ff6666"/>
<rect x="697" y="1141" width="3" height="97.0" fill="#ff6666"/>
<rect x="701" y="1138" width="3" height="100.0" fill="#ff6666"/>
<rect x="705" y="1159" width="3" height="79.0" fill="#66b266"/>
<rect x="709" y="1158" width="3" height="80.0" fill="#ff6666"/>
<rect x="721" y="1173" width="3" height="65.0" fill="#66b266"/>
<rect x="725" y="1170" width="3" height="68.0" fill="#ff6666"/>
<rect x="737" y="1186" width="3" height="52.0" fill="#ff6666"/>
<rect x="753" y="1156" width="4" height="82.0" fill="#ff6666"/>
<rect x="757" y="1146" width="4" height="92.0" fill="#ff6666"/>
<rect x="761" y="1166" width="4" height="72.0" fill="#ff6666"/>
<rect x="765" y="1176" width="4" height="62.0" fill="#ff6666"/>
<rect x="778" y="1114" width="3" height="124.0" fill="#ff6666"/>
<rect x="782" y="1153" width="3" height="85.0" fill="#66b266"/>
<rect x="786" y="1152" width="3" height="86.0" fill="#ff6666"/>
<rect x="790" y="1161" width="3" height="77.0" fill="#66b266"/>
<rect x="794" y="1165" width="3" height="73.0" fill="#66b266"/>
<rect x="806" y="1167" width="3" height="71.0" fill="#66b266"/>
<rect x="810" y="1159" width="3" height="79.0" fill="#ff6666"/>
<rect x="814" y="1155" width="3" height="83.0" fill="#ff6666"/>
<rect x="818" y="1162" width="3" height="76.0" fill="#66b266"/>
<rect x="822" y="1160" width="3" height="78.0" fill="#ff6666"/>
<rect x="834" y="1152" width="3" height="86.0" fill="#66b266"/>
<rect x="838" y="1160" width="4" height="78.0" fill="#ff6666"/>
<rect x="842" y="1168" width="4" height="70.0" fill="#66b266"/>
<rect x="846" y="1151" width="4" height="87.0" fill="#ff6666"/>
<rect x="850" y="1133" width="4" height="105.0" fill="#66b266"/>
<rect x="863" y="1182" width="3" height="56.0" fill="#66b266"/>
<rect x="867" y="1160" width="3" height="78.0" fill="#ff6666"/>
<rect x="871" y="1156" width="3" height="82.0" fill="#ff6666"/>
<rect x="875" y="1152" width="3" height="86.0" fill="#ff6666"/>
<rect x="879" y="1147" width="3" height="91.0" fill="#66b266"/>
<rect x="891" y="1143" width="3" height="95.0" fill="#ff6666"/>
<rect x="895" y="1142" width="3" height="96.0" fill="#66b266"/>
<rect x="899" y="1147" width="3" height="91.0" fill="#ff6666"/>
<rect x="903" y="1144" width="3" height="94.0" fill="#66b266"/>
<rect x="907" y="1125" width="3" height="113.0" fill="#66b266"/>
<rect x="919" y="1150" width="3" height="88.0" fill="#ff6666"/>
<rect x="923" y="1160" width="3" height="78.0" fill="#66b266"/>
<rect x="927" y="1168" width="4" height="70.0" fill="#66b266"/>
<rect x="931" y="1153" width="4" height="85.0" fill="#66b266"/>
<rect x="935" y="1152" width="4" height="86.0" fill="#ff6666"/>
<rect x="947" y="1161" width="4" height="77.0" fill="#ff6666"/>
<rect x="952" y="1145" width="3" height="93.0" fill="#ff6666"/>
<rect x="956" y="1135" width="3" height="103.0" fill="#ff6666"/>
<rect x="960" y="1137" width="3" height="101.0" fill="#66b266"/>
<rect x="964" y="1132" width="3" height="106.0" fill="#66b266"/>
<rect x="976" y="1145" width="3" height="93.0" fill="#66b266"/>
<rect x="984" y="1145" width="3" height="93.0" fill="#ff6666"/>
<rect x="988" y="1149" width="3" height="89.0" fill="#66b266"/>
<rect x="992" y="1135" width="3" height="103.0" fill="#66b266"/>
<rect x="1004" y="1163" width="3" height="75.0" fill="#66b266"/>
<rect x="1008" y="1156" width="3" height="82.0" fill="#ff6666"/>
<rect x="1012" y="1148" width="3" height="90.0" fill="#66b266"/>
<rect x="1016" y="1143" width="3" height="95.0" fill="#ff6666"/>
<rect x="1020" y="1113" width="4" height="125.0" fill="#ff6666"/>
<rect x="1032" y="1157" width="4" height="81.0" fill="#ff6666"/>
<rect x="1036" y="1127" width="4" height="111.0" fill="#ff6666"/>
<rect x="1041" y="1138" width="3" height="100.0" fill="#66b266"/>
<rect x="1045" y="1147" width="3" height="91.0" fill="#66b266"/>
<rect x="1049" y="1146" width="3" height="92.0" fill="#ff6666"/>
<rect x="1061" y="1137" width="3" height="101.0" fill="#ff6666"/>
<rect x="1065" y="1136" width="3" height="102.0" fill="#ff6666"/>
<rect x="1069" y="1110" width="3" height="128.0" fill="#ff6666"/>
<rect x="1073" y="1124" width="3" height="114.0" fill="#ff6666"/>
<rect x="1077" y="1129" width="3" height="109.0" fill="#66b266"/>
<rect x="1089" y="1142" width="3" height="96.0" fill="#ff6666"/>
<rect x="1093" y="1135" width="3" height="103.0" fill="#66b266"/>
<rect x="1097" y="1115" width="3" height="123.0" fill="#66b266"/>
<rect x="1101" y="1114" width="3" height="124.0" fill="#66b266"/>
<rect x="1105" y="1140" width="3" height="98.0" fill="#66b266"/>
<rect x="1117" y="1148" width="4" height="90.0" fill="#ff6666"/>
<rect x="1121" y="1150" width="4" height="88.0" fill="#ff6666"/>
<rect x="1125" y="1155" width="4" height="83.0" fill="#ff6666"/>
<rect x="1130" y="1143" width="3" height="95.0" fill="#ff6666"/>
<rect x="1134" y="1158" width="3" height="80.0" fill="#66b266"/>
<rect x="1146" y="1161" width="3" height="77.0" fill="#ff6666"/>
<rect x="1150" y="1155" width="3" height="83.0" fill="#ff6666"/>
<rect x="1154" y="1129" width="3" height="109.0" fill="#ff6666"/>
<rect x="1158" y="1134" width="3" height="104.0" fill="#66b266"/>
<rect x="1162" y="1118" width="3" height="120.0" fill="#66b266"/>
<rect x="1174" y="1118" width="3" height="120.0" fill="#66b266"/>
<rect x="1178" y="1131" width="3" height="107.0" fill="#66b266"/>
<rect x="1182" y="1128" width="3" height="110.0" fill="#ff6666"/>
<rect x="1186" y="1146" width="3" height="92.0" fill="#66b266"/>
<rect x="1190" y="1128" width="3" height="110.0" fill="#ff6666"/>
<rect x="1202" y="1096" width="4" height="142.0" fill="#ff6666"/>
<rect x="1206" y="1116" width="4" height="122.0" fill="#66b266"/>
<rect x="1210" y="1095" width="4" height="143.0" fill="#66b266"/>
<rect x="1214" y="1087" width="4" height="151.0" fill="#66b266"/>
<rect x="1218" y="1109" width="4" height="129.0" fill="#ff6666"/>
<rect x="1231" y="1092" width="3" height="146.0" fill="#ff6666"/>
<rect x="1235" y="1112" width="3" height="126.0" fill="#66b266"/>
<rect x="1239" y="1135" width="3" height="103.0" fill="#66b266"/>
<rect x="1243" y="1122" width="3" height="116.0" fill="#66b266"/>
<rect x="1247" y="1122" width="3" height="116.0" fill="#ff6666"/>
<rect x="1259" y="1128" width="3" height="110.0" fill="#ff6666"/>
<rect x="1263" y="1125" width="3" height="113.0" fill="#ff6666"/>
<rect x="1267" y="1127" width="3" height="111.0" fill="#ff6666"/>
<rect x="1271" y="1113" width="3" height="125.0" fill="#66b266"/>
<rect x="1275" y="1114" width="3" height="124.0" fill="#ff6666"/>
<rect x="1287" y="1126" width="3" height="112.0" fill="#ff6666"/>
<rect x="1291" y="1125" width="4" height="113.0" fill="#66b266"/>
<rect x="1295" y="1099" width="4" height="139.0" fill="#ff6666"/>
<rect x="1299" y="1079" width="4" height="159.0" fill="#66b266"/>
<rect x="1303" y="1093" width="4" height="145.0" fill="#ff6666"/>
<rect x="1316" y="1126" width="3" height="112.0" fill="#66b266"/>
<rect x="1320" y="1125" width="3" height="113.0" fill="#66b266"/>
<rect x="1324" y="1127" width="3" height="111.0" fill="#ff6666"/>
<rect x="1328" y="1117" width="3" height="121.0" fill="#66b266"/>
<rect x="1332" y="1113" width="3" height="125.0" fill="#66b266"/>
<rect x="1344" y="1119" width="3" height="119.0" fill="#ff6666"/>
<rect x="1348" y="1117" width="3" height="121.0" fill="#ff6666"/>
<rect x="1356" y="1152" width="3" height="86.0" fill="#ff6666"/>
<rect x="1360" y="1186" width="3" height="52.0" fill="#66b266"/>
<rect x="1372" y="1191" width="3" height="47.0" fill="#66b266"/>
<rect x="1380" y="1171" width="4" height="67.0" fill="#66b266"/>
<rect x="1384" y="1089" width="4" height="149.0" fill="#66b266"/>
<rect x="1388" y="1109" width="4" height="129.0" fill="#66b266"/>
<rect x="1401" y="1049" width="3" height="189.0" fill="#66b266"/>
<rect x="1405" y="1084" width="3" height="154.0" fill="#66b266"/>
<rect x="1409" y="1116" width="3" height="122.0" fill="#ff6666"/>
<rect x="1413" y="1132" width="3" height="106.0" fill="#66b266"/>
<rect x="1417" y="1117" width="3" height="121.0" fill="#66b266"/>
<rect x="1429" y="1146" width="3" height="92.0" fill="#ff6666"/>
<rect x="1433" y="1136" width="3" height="102.0" fill="#ff6666"/>
<rect x="1437" y="1150" width="3" height="88.0" fill="#66b266"/>
<rect x="1441" y="1144" width="3" height="94.0" fill="#ff6666"/>
<rect x="1445" y="1151" width="3" height="87.0" fill="#ff6666"/>
<rect x="1457" y="1135" width="3" height="103.0" fill="#ff6666"/>
<rect x="1461" y="1145" width="3" height="93.0" fill="#66b266"/>
<rect x="1469" y="1102" width="3" height="136.0" fill="#66b266"/>
<rect x="1473" y="1139" width="4" height="99.0" fill="#66b266"/>
<rect x="1485" y="1150" width="4" height="88.0" fill="#ff6666"/>
<rect x="1489" y="1146" width="4" height="92.0" fill="#66b266"/>
<rect x="1494" y="1146" width="3" height="92.0" fill="#66b266"/>
<rect x="1498" y="1148" width="3" height="90.0" fill="#ff6666"/>
<rect x="1502" y="1157" width="3" height="81.0" fill="#66b266"/>
<rect x="1514" y="1155" width="3" height="83.0" fill="#ff6666"/>
<rect x="1518" y="1157" width="3" height="81.0" fill="#ff6666"/>
<rect x="1522" y="1147" width="3" height="91.0" fill="#ff6666"/>
<rect x="1526" y="1134" width="3" height="104.0" fill="#ff6666"/>
<rect x="1530" y="1148" width="3" height="90.0" fill="#66b266"/>
<rect x="1542" y="1154" width="3" height="84.0" fill="#66b266"/>
<rect x="1546" y="1145" width="3" height="93.0" fill="#66b266"/>
<rect x="1550" y="1157" width="3" height="81.0" fill="#66b266"/>
<rect x="1554" y="1144" width="3" height="94.0" fill="#ff6666"/>
<rect x="1558" y="1128" width="3" height="110.0" fill="#66b266"/>
<rect x="1570" y="1121" width="4" height="117.0" fill="#ff6666"/>
<rect x="1574" y="1149" width="4" height="89.0" fill="#ff6666"/>
<rect x="1578" y="1158" width="4" height="80.0" fill="#ff6666"/>
<rect x="1583" y="1159" width="3" height="79.0" fill="#ff6666"/>
<rect x="1587" y="1182" width="3" height="56.0" fill="#66b266"/>
<rect x="1599" y="1161" width="3" height="77.0" fill="#ff6666"/>
<rect x="1603" y="1169" width="3" height="69.0" fill="#ff6666"/>
<rect x="1607" y="1175" width="3" height="63.0" fill="#66b266"/>
<rect x="1611" y="1169" width="3" height="69.0" fill="#ff6666"/>
<rect x="1615" y="1157" width="3" height="81.0" fill="#ff6666"/>
<rect x="1627" y="1159" width="3" height="79.0" fill="#66b266"/>
<rect x="1631" y="1157" width="3" height="81.0" fill="#66b266"/>
<rect x="1635" y="1163" width="3" height="75.0" fill="#ff6666"/>
<rect x="1639" y="1168" width="3" height="70.0" fill="#66b266"/>
<rect x="1643" y="1145" width="3" height="93.0" fill="#ff6666"/>
<rect x="1655" y="1159" width="4" height="79.0" fill="#66b266"/>
<rect x="1659" y="1160" width="4" height="78.0" fill="#66b266"/>
<rect x="1663" y="1167" width="4" height="71.0" fill="#ff6666"/>
<line x1="113.0" y1="986.0" x2="113.0" y2="1239.0" stroke="#000" stroke-opacity="0.8333" stroke-width="2"/>
<line x1="112.0" y1="1238.0" x2="1741.8" y2="1238.0" stroke="#000" stroke-opacity="0.8333" stroke-width="2"/>
<line x1="249" y1="1238.0" x2="249" y2="1245.0" stroke="#000" stroke-opacity="0.8333" stroke-width="2"/>
<text transform="translate(252.38,1290.00) rotate(-45)" y="0" fill="#000"><tspan x="-35.62" font-size="20.83" textLength="39.99" lengthAdjust="spacingAndGlyphs">2025</tspan><tspan x="3.48" dy="-2.60" font-size="20.83" textLength="13.87" lengthAdjust="spacingAndGlyphs">-</tspan><tspan x="16.04" dy="2.60" font-size="20.83" textLength="20.00" lengthAdjust="spacingAndGlyphs">01</tspan></text>
<line x1="488" y1="1238.0" x2="488" y2="1245.0" stroke="#000" stroke-opacity="0.8333" stroke-width="2"/>
<text transform="translate(491.02,1290.00) rotate(-45)" y="0" fill="#000"><tspan x="-35.62" font-size="20.83" textLength="39.99" lengthAdjust="spacingAndGlyphs">2025</tspan><tspan x="3.48" dy="-2.60" font-size="20.83" textLength="13.87" lengthAdjust="spacingAndGlyphs">-</tspan><tspan x="16.04" dy="2.60" font-size="20.83" textLength="20.00" lengthAdjust="spacingAndGlyphs">03</tspan></text>
<line x1="735" y1="1238.0" x2="735" y2="1245.0" stroke="#000" stroke-opacity="0.8333" stroke-width="2"/>
<text transform="translate(737.75,1290.00) rotate(-45)" y="0" fill="#000"><tspan x="-35.62" font-size="20.83" textLength="39.99" lengthAdjust="spacingAndGlyphs">2025</tspan><tspan x="3.48" dy="-2.60" font-size="20.83" textLength="13.87" lengthAdjust="spacingAndGlyphs">-</tspan><tspan x="16.04" dy="2.60" font-size="20.83" textLength="20.00" lengthAdjust="spacingAndGlyphs">05</tspan></text>
<line x1="981" y1="1238.0" x2="981" y2="1245.0" stroke="#000" stroke-opacity="0.8333" stroke-width="2"/>
<text transform="translate(984.47,1290.00) rotate(-45)" y="0" fill="#000"><tspan x="-35.62" font-size="20.83" textLength="39.99" lengthAdjust="spacingAndGlyphs">2025</tspan><tspan x="3.48" dy="-2.60" font-size="20.83" textLength="13.87" lengthAdjust="spacingAndGlyphs">-</tspan><tspan x="16.04" dy="2.60" font-size="20.83" textLength="20.00" lengthAdjust="spacingAndGlyphs">07</tspan></text>
<line x1="1232" y1="1238.0" x2="1232" y2="1245.0" stroke="#000" stroke-opacity="0.8333" stroke-width="2"/>
<text transform="translate(1235.24,1290.00) rotate(-45)" y="0" fill="#000"><tspan x="-35.62" font-size="20.83" textLength="39.99" lengthAdjust="spacingAndGlyphs">2025</tspan><tspan x="3.48" dy="-2.60" font-size="20.83" textLength="13.87" lengthAdjust="spacingAndGlyphs">-</tspan><tspan x="16.04" dy="2.60" font-size="20.83" textLength="20.00" lengthAdjust="spacingAndGlyphs">09</tspan></text>
<line x1="1479" y1="1238.0" x2="1479" y2="1245.0" stroke="#000" stroke-opacity="0.8333" stroke-width="2"/>
<text transform="translate(1481.97,1290.00) rotate(-45)" y="0" fill="#000"><tspan x="-35.62" font-size="20.83" textLength="39.99" lengthAdjust="spacingAndGlyphs">2025</tspan><tspan x="3.48" dy="-2.60" font-size="20.83" textLength="13.87" lengthAdjust="spacingAndGlyphs">-</tspan><tspan x="16.04" dy="2.60" font-size="20.83" textLength="20.00" lengthAdjust="spacingAndGlyphs">11</tspan></text>
<line x1="1726" y1="1238.0" x2="1726" y2="1245.0" stroke="#000" stroke-opacity="0.8333" stroke-width="2"/>
<text transform="translate(1728.70,1290.00) rotate(-45)" y="0" fill="#000"><tspan x="-35.62" font-size="20.83" textLength="39.99" lengthAdjust="spacingAndGlyphs">2026</tspan><tspan x="3.48" dy="-2.60" font-size="20.83" textLength="13.87" lengthAdjust="spacingAndGlyphs">-</tspan><tspan x="16.04" dy="2.60" font-size="20.83" textLength="20.00" lengthAdjust="spacingAndGlyphs">01</tspan></text>
<line x1="106.0" y1="1238" x2="113.0" y2="1238" stroke="#000" stroke-opacity="0.8333" stroke-width="2"/>
<text transform="translate(98.40,1246.00)" y="0" fill="#000"><tspan x="-10.21" font-size="20.83" textLength="10.00" lengthAdjust="spacingAndGlyphs">0</tspan></text>
<line x1="106.0" y1="1161" x2="113.0" y2="1161" stroke="#000" stroke-opacity="0.8333" stroke-width="2"/>
<text transform="translate(98.40,1169.00)" y="0" fill="#000"><tspan x="-10.21" font-size="20.83" textLength="10.00" lengthAdjust="spacingAndGlyphs">2</tspan></text>
<line x1="106.0" y1="1084" x2="113.0" y2="1084" stroke="#000" stroke-opacity="0.8333" stroke-width="2"/>
<text transform="translate(98.40,1092.00)" y="0" fill="#000"><tspan x="-10.21" font-size="20.83" textLength="10.00" lengthAdjust="spacingAndGlyphs">4</tspan></text>
<line x1="106.0" y1="1007" x2="113.0" y2="1007" stroke="#000" stroke-opacity="0.8333" stroke-width="2"/>
<text transform="translate(98.40,1015.00)" y="0" fill="#000"><tspan x="-10.21" font-size="20.83" textLength="10.00" lengthAdjust="spacingAndGlyphs">6</tspan></text>
<text x="114.6" y="981.0" font-size="20.83" textLength="38.6" lengthAdjust="spacingAndGlyphs">1e11</text>
<text transform="translate(76.00,1114.30) rotate(-90)" y="0" fill="#000"><tspan x="-30.72 -9.89 10.94" font-size="19.79" font-weight="500">成交量</tspan></text>
</g>
</svg>
</body></html>
